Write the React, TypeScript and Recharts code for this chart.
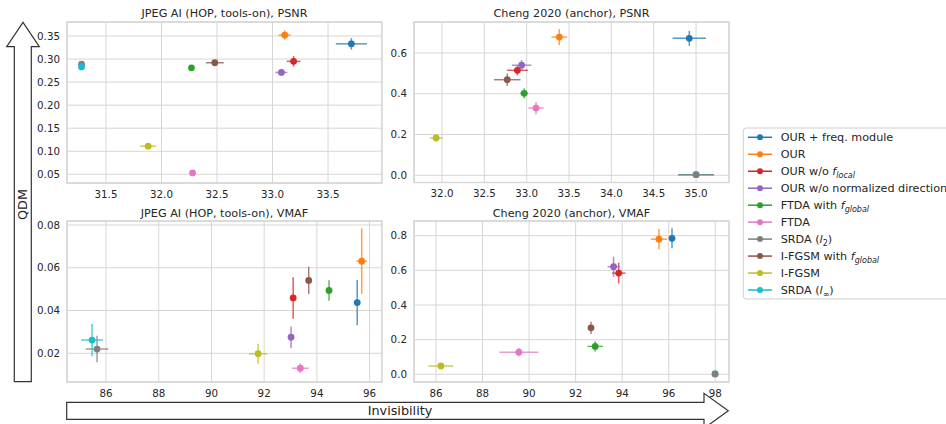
import React from 'react';
import { ScatterChart, Scatter, XAxis, YAxis, CartesianGrid, ErrorBar } from 'recharts';

// ---------- series ----------
const seriesNames = [
  'OUR + freq. module',
  'OUR',
  'OUR w/o f_local',
  'OUR w/o normalized direction',
  'FTDA with f_global',
  'FTDA',
  'SRDA (l2)',
  'I-FGSM with f_global',
  'I-FGSM',
  'SRDA (l∞)',
];
const seriesColors = [
  '#1f77b4', '#ff7f0e', '#d62728', '#9467bd', '#2ca02c',
  '#e377c2', '#7f7f7f', '#8c564b', '#bcbd22', '#17becf',
];

// ---------- JPEG AI (HOP, tools-on), PSNR ----------
const jpegPsnrX = [33.71, 33.11, 33.19, 33.08, 32.27, 32.28, 31.28, 32.48, 31.88, 31.28];
const jpegPsnrY = [0.333, 0.352, 0.295, 0.271, 0.281, 0.053, 0.289, 0.292, 0.111, 0.283];
const jpegPsnrXErr = [0.14, 0.054, 0.063, 0.054, 0.01, 0.02, 0.01, 0.081, 0.072, 0.01];
const jpegPsnrYErr = [0.0125, 0.01, 0.0115, 0.006, 0.004, 0.003, 0.005, 0.004, 0.003, 0.005];
const jpegPsnrXTicks = [31.5, 32.0, 32.5, 33.0, 33.5];
const jpegPsnrYTicks = [0.05, 0.1, 0.15, 0.2, 0.25, 0.3, 0.35];

// ---------- Cheng 2020 (anchor), PSNR ----------
const chengPsnrX = [34.92, 33.385, 32.89, 32.94, 32.97, 33.11, 35.0, 32.77, 31.93, 35.0];
const chengPsnrY = [0.672, 0.678, 0.515, 0.54, 0.402, 0.33, 0.003, 0.469, 0.183, 0.003];
const chengPsnrXErr = [0.197, 0.092, 0.124, 0.114, 0.047, 0.092, 0.213, 0.157, 0.075, 0.21];
const chengPsnrYErr = [0.037, 0.039, 0.025, 0.025, 0.025, 0.03, 0.004, 0.03, 0.017, 0.004];
const chengPsnrXTicks = [32.0, 32.5, 33.0, 33.5, 34.0, 34.5, 35.0];
const chengPsnrYTicks = [0.0, 0.2, 0.4, 0.6];

// ---------- JPEG AI (HOP, tools-on), VMAF ----------
const jpegVmafX = [95.53, 95.7, 93.1, 93.02, 94.46, 93.37, 85.66, 93.69, 91.77, 85.47];
const jpegVmafY = [0.0437, 0.0631, 0.0459, 0.0275, 0.0494, 0.013, 0.022, 0.0541, 0.0198, 0.0262];
const jpegVmafXErr = [0.06, 0.2, 0.1, 0.1, 0.06, 0.32, 0.43, 0.06, 0.35, 0.41];
const jpegVmafYErr = [0.0106, 0.0153, 0.0097, 0.005, 0.0048, 0.0023, 0.0062, 0.0064, 0.0047, 0.0076];
const jpegVmafXTicks = [86, 88, 90, 92, 94, 96];
const jpegVmafYTicks = [0.02, 0.04, 0.06, 0.08];

// ---------- Cheng 2020 (anchor), VMAF ----------
const chengVmafX = [96.14, 95.58, 93.85, 93.63, 92.84, 89.56, 97.99, 92.66, 86.21, 97.99];
const chengVmafY = [0.785, 0.78, 0.584, 0.621, 0.161, 0.128, 0.002, 0.268, 0.048, 0.002];
const chengVmafXErr = [0.05, 0.35, 0.29, 0.26, 0.33, 0.84, 0.05, 0.13, 0.53, 0.05];
const chengVmafYErr = [0.058, 0.058, 0.06, 0.058, 0.03, 0.025, 0.004, 0.036, 0.01, 0.004];
const chengVmafXTicks = [86, 88, 90, 92, 94, 96, 98];
const chengVmafYTicks = [0.0, 0.2, 0.4, 0.6, 0.8];

// drawing order of the series (index into seriesNames)
const orderCyanOnTop = [0, 1, 2, 3, 4, 5, 6, 7, 8, 9];
const orderGrayOnTop = [0, 1, 2, 3, 4, 5, 9, 7, 8, 6];

const FONT = "'DejaVu Sans', sans-serif";
const TEXT = '#262626';

type PanelDef = {
  title: string;
  x: number[]; y: number[]; xerr: number[]; yerr: number[];
  xTicks: number[]; yTicks: number[];
  xDomain: [number, number]; yDomain: [number, number];
  xDec: number; yDec: number; order: number[];
  left: number; top: number; width: number; height: number;
  yAxisWidth: number; marginTop: number; xAxisHeight: number;
};

const panels: PanelDef[] = [
  {
    title: 'JPEG AI (HOP, tools-on), PSNR',
    x: jpegPsnrX, y: jpegPsnrY, xerr: jpegPsnrXErr, yerr: jpegPsnrYErr,
    xTicks: jpegPsnrXTicks, yTicks: jpegPsnrYTicks,
    xDomain: [31.149, 33.986], yDomain: [0.0311, 0.3804], xDec: 1, yDec: 2, order: orderCyanOnTop,
    left: 0, top: 0, width: 382, height: 205, yAxisWidth: 67, marginTop: 22, xAxisHeight: 22,
  },
  {
    title: 'Cheng 2020 (anchor), PSNR',
    x: chengPsnrX, y: chengPsnrY, xerr: chengPsnrXErr, yerr: chengPsnrYErr,
    xTicks: chengPsnrXTicks, yTicks: chengPsnrYTicks,
    xDomain: [31.669, 35.389], yDomain: [-0.0353, 0.752], xDec: 1, yDec: 1, order: orderGrayOnTop,
    left: 381, top: 0, width: 348, height: 205, yAxisWidth: 33, marginTop: 22, xAxisHeight: 22.5,
  },
  {
    title: 'JPEG AI (HOP, tools-on), VMAF',
    x: jpegVmafX, y: jpegVmafY, xerr: jpegVmafXErr, yerr: jpegVmafYErr,
    xTicks: jpegVmafXTicks, yTicks: jpegVmafYTicks,
    xDomain: [84.52, 96.47], yDomain: [0.00658, 0.08187], xDec: 0, yDec: 2, order: orderCyanOnTop,
    left: 0, top: 200, width: 382, height: 204, yAxisWidth: 67, marginTop: 21, xAxisHeight: 22,
  },
  {
    title: 'Cheng 2020 (anchor), VMAF',
    x: chengVmafX, y: chengVmafY, xerr: chengVmafXErr, yerr: chengVmafYErr,
    xTicks: chengVmafXTicks, yTicks: chengVmafYTicks,
    xDomain: [85.055, 98.589], yDomain: [-0.0444, 0.8848], xDec: 0, yDec: 1, order: orderGrayOnTop,
    left: 381, top: 200, width: 348, height: 204, yAxisWidth: 33, marginTop: 21, xAxisHeight: 22,
  },
];

function Panel({ p }: { p: PanelDef }) {
  const tickStyle = { fill: TEXT, fontSize: 10.3, fontFamily: FONT };
  return (
    <div style={{ position: 'absolute', left: p.left, top: p.top }}>
      <ScatterChart width={p.width} height={p.height} margin={{ top: p.marginTop, right: 0, bottom: 0, left: 0 }}>
        <CartesianGrid stroke="#d6d6d6" strokeWidth={1} />
        <XAxis
          type="number" dataKey="x" domain={p.xDomain} ticks={p.xTicks} allowDataOverflow
          interval={0} height={p.xAxisHeight} tickLine={false} axisLine={false}
          tickSize={5} tickMargin={2.5} tick={tickStyle}
          tickFormatter={(v: number) => v.toFixed(p.xDec)}
        />
        <YAxis
          type="number" dataKey="y" domain={p.yDomain} ticks={p.yTicks} allowDataOverflow
          interval={0} width={p.yAxisWidth} tickLine={false} axisLine={false}
          tickSize={5} tickMargin={2} tick={tickStyle}
          tickFormatter={(v: number) => v.toFixed(p.yDec)}
        />
        {p.order.map((i) => {
          const name = seriesNames[i];
          const color = seriesColors[i];
          return (
            <Scatter
              key={name}
              name={name}
              data={[{ x: p.x[i], y: p.y[i], ex: p.xerr[i], ey: p.yerr[i] }]}
              fill={color}
              isAnimationActive={false}
              shape={(props: any) => <circle cx={props.cx} cy={props.cy} r={3.4} fill={color} />}
            >
              <ErrorBar dataKey="ex" direction="x" width={0} stroke={color} strokeWidth={1.5} strokeOpacity={0.75} isAnimationActive={false} />
              <ErrorBar dataKey="ey" direction="y" width={0} stroke={color} strokeWidth={1.5} strokeOpacity={0.75} isAnimationActive={false} />
            </Scatter>
          );
        })}
      </ScatterChart>
    </div>
  );
}

type Seg = { t: string; it?: boolean; sub?: boolean };
const legendLabels: Seg[][] = [
  [{ t: 'OUR + freq. module' }],
  [{ t: 'OUR' }],
  [{ t: 'OUR w/o ' }, { t: 'f', it: true }, { t: 'local', it: true, sub: true }],
  [{ t: 'OUR w/o normalized direction' }],
  [{ t: 'FTDA with ' }, { t: 'f', it: true }, { t: 'global', it: true, sub: true }],
  [{ t: 'FTDA' }],
  [{ t: 'SRDA (' }, { t: 'l', it: true }, { t: '2', sub: true }, { t: ')' }],
  [{ t: 'I-FGSM with ' }, { t: 'f', it: true }, { t: 'global', it: true, sub: true }],
  [{ t: 'I-FGSM' }],
  [{ t: 'SRDA (' }, { t: 'l', it: true }, { t: '∞', sub: true }, { t: ')' }],
];

function LegendText({ segs, x, y }: { segs: Seg[]; x: number; y: number }) {
  let inSub = false;
  return (
    <text x={x} y={y} fontSize={11.2} fontFamily={FONT} fill={TEXT}>
      {segs.map((s, k) => {
        let dy = 0;
        if (s.sub && !inSub) { dy = 2.8; inSub = true; }
        else if (!s.sub && inSub) { dy = -2.8; inSub = false; }
        return (
          <tspan key={k} dy={dy} fontStyle={s.it ? 'italic' : 'normal'} fontSize={s.sub ? 8 : 11.2}>{s.t}</tspan>
        );
      })}
    </text>
  );
}

export default function App() {
  const boxes = [
    { x: 67, y: 22, w: 315, h: 161 },
    { x: 414, y: 22, w: 315, h: 160.5 },
    { x: 67, y: 221, w: 315, h: 161 },
    { x: 414, y: 221, w: 315, h: 161 },
  ];
  const titleX = [224.5, 571.5, 224.5, 571.5];
  const titleY = [17.3, 17.3, 216.7, 216.7];
  return (
    <div style={{ position: 'absolute', left: 0, top: 0, width: 946, height: 424, overflow: 'hidden', background: '#fff', fontFamily: FONT }}>
      <svg width={946} height={424} style={{ position: 'absolute', left: 0, top: 0 }}>
        {/* vertical arrow */}
        <polygon
          points="14.3,381.7 14.3,46.7 6.7,46.7 23,22.3 39.3,46.7 31.3,46.7 31.3,381.7"
          fill="#fff" stroke="#333" strokeWidth={1.2}
        />
        <text transform="translate(27.3,204.5) rotate(-90)" textAnchor="middle" fontSize={12.8} fontFamily={FONT} fill="#222">QDM</text>
        {/* horizontal arrow */}
        <polygon
          points="66.7,402.3 704,402.3 704,393.3 728.3,410.8 704,428.3 704,419.3 66.7,419.3"
          fill="#fff" stroke="#333" strokeWidth={1.2}
        />
        <text x={400} y={415} textAnchor="middle" fontSize={12.8} fontFamily={FONT} fill="#222">Invisibility</text>
        {/* spines */}
        {boxes.map((b, i) => (
          <rect key={i} x={b.x} y={b.y} width={b.w} height={b.h} fill="#fff" stroke="#cccccc" strokeWidth={1.25} />
        ))}
        {/* titles */}
        {panels.map((p, i) => (
          <text key={p.title} x={titleX[i]} y={titleY[i]} textAnchor="middle" fontSize={11.2} fontFamily={FONT} fill={TEXT}>{p.title}</text>
        ))}
        {/* legend */}
        <rect x={743.3} y={128} width={260} height={171} rx={3} fill="#fff" stroke="#d0d0d0" strokeWidth={1} />
        {seriesNames.map((n, i) => {
          const cy = 137.3 + i * 16.97;
          return (
            <g key={n}>
              <line x1={748} x2={772} y1={cy} y2={cy} stroke={seriesColors[i]} strokeWidth={1.5} />
              <circle cx={760} cy={cy} r={3} fill={seriesColors[i]} />
              <LegendText segs={legendLabels[i]} x={780.7} y={cy + 4} />
            </g>
          );
        })}
      </svg>
      {panels.map((p) => <Panel key={p.title} p={p} />)}
    </div>
  );
}
